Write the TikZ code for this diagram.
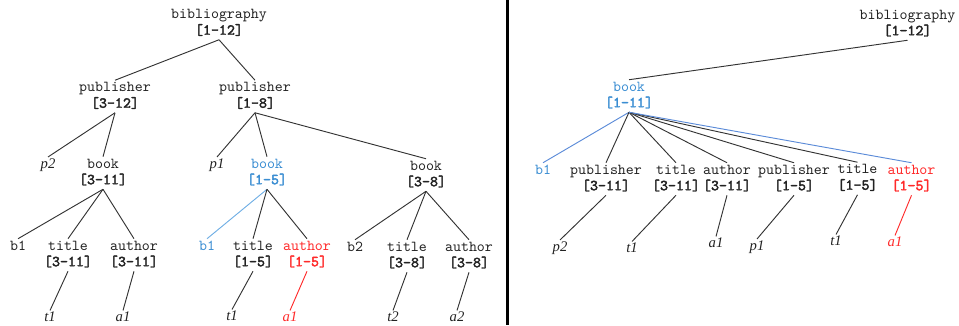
\documentclass[tikz,border=0pt]{standalone}
\usepackage{fontspec}
\setmainfont{Liberation Serif}
\setmonofont{lmmono10-regular.otf}[
  BoldFont=lmmono10-regular.otf,
  BoldFeatures={FakeBold=2.6}]

\definecolor{ink}{HTML}{222222}
\definecolor{edgegray}{HTML}{333333}
\definecolor{hiblue}{HTML}{3A8DD2}
\definecolor{hired}{HTML}{FF2A2A}
\definecolor{paleblue}{HTML}{6FAEE4}
\definecolor{linkblue}{HTML}{5B8BD8}

\tikzset{
  tn/.style={align=center, inner sep=0pt, text=ink,
             font=\fontsize{11.4}{12}\selectfont\ttfamily},
  leaf/.style={inner sep=1pt, text=ink,
             font=\fontsize{11}{13}\selectfont\itshape},
  ln/.style={draw=edgegray, line width=0.7pt},
  blueln/.style={draw=linkblue, line width=0.7pt},
  paleln/.style={draw=paleblue, line width=0.7pt},
  redln/.style={draw=hired, line width=0.7pt},
  divider/.style={draw=black, line width=2.25pt},
}

% two-line element label: name above, bold interval below
\newcommand{\elem}[2]{\strut #1\\\strut\textbf{#2}}

\begin{document}
\begin{tikzpicture}[x=0.75pt,y=-0.75pt]
\useasboundingbox (0,0) rectangle (959,325);

% ---------- left tree ----------
\node[tn] (bib)   at (219,23.5) {\elem{bibliography}{[1-12]}};
\node[tn] (pubA)  at (115,96.5) {\elem{publisher}{[3-12]}};
\node[tn] (pubB)  at (255,96.5) {\elem{publisher}{[1-8]}};

\node[leaf] (p2)  at (48,165)  {p2};
\node[tn] (bookA) at (103,173) {\elem{book}{[3-11]}};
\node[leaf] (p1)  at (217,165) {p1};
\node[tn, text=hiblue] (bookB) at (267,173) {\elem{book}{[1-5]}};
\node[tn] (bookC) at (426,175) {\elem{book}{[3-8]}};

\node[tn] (b1A)     at (18,247)  {\strut b1};
\node[tn] (titleA)  at (68,255)  {\elem{title}{[3-11]}};
\node[tn] (authorA) at (134,255) {\elem{author}{[3-11]}};
\node[leaf] (t1A)   at (50,317)  {t1};
\node[leaf] (a1A)   at (123,317) {a1};

\node[tn, text=hiblue] (b1B) at (207,247) {\strut b1};
\node[tn] (titleB)  at (253,255) {\elem{title}{[1-5]}};
\node[tn, text=hired] (authorB) at (307,255) {\elem{author}{[1-5]}};
\node[leaf] (t1B)   at (232,316) {t1};
\node[leaf, text=hired] (a1B) at (290,317) {a1};

\node[tn] (b2)      at (355,248) {\strut b2};
\node[tn] (titleC)  at (407,256) {\elem{title}{[3-8]}};
\node[tn] (authorC) at (469,256) {\elem{author}{[3-8]}};
\node[leaf] (t2)    at (393,317) {t2};
\node[leaf] (a2)    at (457,317) {a2};

\draw[ln] (bib.south) -- (pubA.north);
\draw[ln] (bib.south) -- (pubB.north);
\draw[ln] (pubA.south) -- (p2.north);
\draw[ln] (pubA.south) -- (bookA.north);
\draw[ln] (pubB.south) -- (p1.north);
\draw[ln] (pubB.south) -- (bookB.north);
\draw[ln] (pubB.south) -- (bookC.north);

\draw[ln] (bookA.south) -- (b1A.north);
\draw[ln] (bookA.south) -- (titleA.north);
\draw[ln] (bookA.south) -- (authorA.north);
\draw[ln] (titleA.south) -- (t1A.north);
\draw[ln] (authorA.south) -- (a1A.north);

\draw[paleln] (bookB.south) -- (b1B.north);
\draw[ln] (bookB.south) -- (titleB.north);
\draw[ln] (bookB.south) -- (authorB.north);
\draw[ln] (titleB.south) -- (t1B.north);
\draw[redln] (authorB.south) -- (a1B.north);

\draw[ln] (bookC.south) -- (b2.north);
\draw[ln] (bookC.south) -- (titleC.north);
\draw[ln] (bookC.south) -- (authorC.north);
\draw[ln] (titleC.south) -- (t2.north);
\draw[ln] (authorC.south) -- (a2.north);

% ---------- divider ----------
\draw[divider] (507.5,0) -- (507.5,325);

% ---------- right tree ----------
\node[tn] (bibR)  at (907.5,24) {\elem{bibliography}{[1-12]}};
\node[tn, text=hiblue] (bookR) at (629,96) {\elem{book}{[1-11]}};

\node[tn, text=hiblue] (b1R) at (543,171) {\strut b1};
\node[tn] (pubR1)   at (606,179)   {\elem{publisher}{[3-11]}};
\node[tn] (titleR1) at (676,179)   {\elem{title}{[3-11]}};
\node[tn] (authR1)  at (727,179)   {\elem{author}{[3-11]}};
\node[tn] (pubR2)   at (794,179)   {\elem{publisher}{[1-5]}};
\node[tn] (titleR2) at (857.5,178.5) {\elem{title}{[1-5]}};
\node[tn, text=hired] (authR2) at (911.5,179) {\elem{author}{[1-5]}};

\node[leaf] (p2R)  at (560,248) {p2};
\node[leaf] (t1R)  at (632,248) {t1};
\node[leaf] (a1R)  at (716,243) {a1};
\node[leaf] (p1R)  at (757,247) {p1};
\node[leaf] (t1R2) at (836,241) {t1};
\node[leaf, text=hired] (a1R2) at (895,242) {a1};

\draw[ln] (bibR.south) -- (bookR.north);
\draw[blueln] (bookR.south) -- (b1R.north);
\draw[ln] (bookR.south) -- (pubR1.north);
\draw[ln] (bookR.south) -- (titleR1.north);
\draw[ln] (bookR.south) -- (authR1.north);
\draw[ln] (bookR.south) -- (pubR2.north);
\draw[ln] (bookR.south) -- (titleR2.north);
\draw[blueln] (bookR.south) -- (authR2.north);

\draw[ln] (pubR1.south) -- (p2R.north);
\draw[ln] (titleR1.south) -- (t1R.north);
\draw[ln] (authR1.south) -- (a1R.north);
\draw[ln] (pubR2.south) -- (p1R.north);
\draw[ln] (titleR2.south) -- (t1R2.north);
\draw[redln] (authR2.south) -- (a1R2.north);
\end{tikzpicture}
\end{document}
